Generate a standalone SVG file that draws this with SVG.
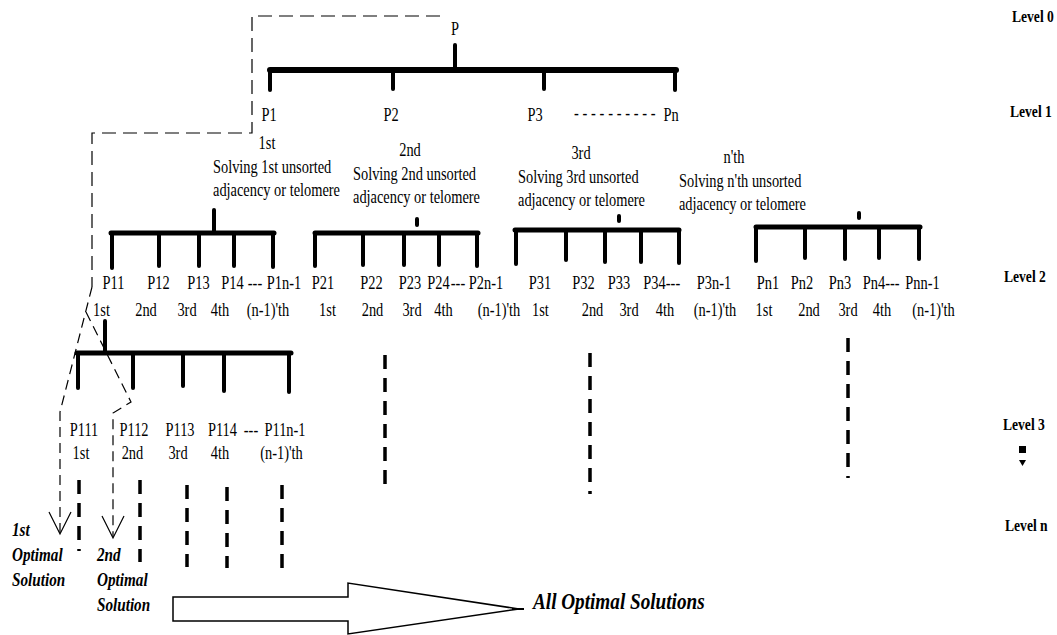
<svg xmlns="http://www.w3.org/2000/svg" width="1057" height="635" viewBox="0 0 1057 635">
<style>
.t{font-family:"Liberation Serif","Times New Roman",serif;font-size:18px;fill:#000;transform:scale(0.8,1)}
.m{text-anchor:middle}
.lvl{font-weight:bold;font-size:17px}
.it{font-weight:bold;font-style:italic;font-size:19px}
.big{font-weight:bold;font-style:italic;font-size:24px}
.bar{stroke:#000;stroke-width:5;stroke-linecap:round;fill:none}
.bar1{stroke:#000;stroke-width:6;stroke-linecap:round;fill:none}
.stem{stroke:#000;stroke-width:4;stroke-linecap:round}
.tdash{stroke:#000;stroke-width:3.5;stroke-dasharray:14 9}
.thin{stroke:#000;stroke-width:1.2;fill:none;stroke-dasharray:14 7}
.thin2{stroke:#000;stroke-width:1.2;fill:none;stroke-dasharray:10 6}
.head{stroke:#000;stroke-width:1.2;fill:none}
</style>
<rect width="1057" height="635" fill="#fff"/>

<g id="connectors">
  <!-- level 0 to level 1 -->
  <line class="stem" x1="455" y1="45" x2="455" y2="70"/>
  <line class="bar1" x1="270" y1="70" x2="676" y2="70"/>
  <line class="stem" x1="270" y1="70" x2="270" y2="90"/>
  <line class="stem" x1="393" y1="70" x2="393" y2="89"/>
  <line class="stem" x1="544" y1="70" x2="544" y2="89"/>
  <line class="stem" x1="675" y1="70" x2="675" y2="90"/>
  <!-- group 1 -->
  <line class="stem" x1="214" y1="210" x2="214" y2="233"/>
  <line class="bar" x1="111" y1="233" x2="274" y2="233"/>
  <line class="stem" x1="112" y1="233" x2="112" y2="268"/>
  <line class="stem" x1="159" y1="233" x2="159" y2="266"/>
  <line class="stem" x1="199" y1="233" x2="199" y2="266"/>
  <line class="stem" x1="234" y1="233" x2="234" y2="266"/>
  <line class="stem" x1="273" y1="233" x2="273" y2="267"/>
  <!-- group 2 -->
  <line class="stem" x1="417" y1="219" x2="417" y2="225"/>
  <line class="bar" x1="315" y1="233" x2="478" y2="233"/>
  <line class="stem" x1="315" y1="233" x2="315" y2="266"/>
  <line class="stem" x1="363" y1="233" x2="363" y2="265"/>
  <line class="stem" x1="404" y1="233" x2="404" y2="265"/>
  <line class="stem" x1="439" y1="233" x2="439" y2="265"/>
  <line class="stem" x1="477" y1="233" x2="477" y2="266"/>
  <!-- group 3 -->
  <line class="stem" x1="619" y1="216" x2="619" y2="221"/>
  <line class="bar" x1="515" y1="230" x2="679" y2="230"/>
  <line class="stem" x1="516" y1="230" x2="516" y2="264"/>
  <line class="stem" x1="566" y1="230" x2="566" y2="260"/>
  <line class="stem" x1="605" y1="230" x2="605" y2="262"/>
  <line class="stem" x1="641" y1="230" x2="641" y2="262"/>
  <line class="stem" x1="679" y1="230" x2="679" y2="263"/>
  <!-- group 4 -->
  <line class="stem" x1="859" y1="213" x2="859" y2="218"/>
  <line class="bar" x1="756" y1="227" x2="920" y2="227"/>
  <line class="stem" x1="756" y1="227" x2="756" y2="261"/>
  <line class="stem" x1="805" y1="227" x2="805" y2="258"/>
  <line class="stem" x1="845" y1="227" x2="845" y2="259"/>
  <line class="stem" x1="879" y1="227" x2="879" y2="258"/>
  <line class="stem" x1="919" y1="227" x2="919" y2="259"/>
  <!-- level 3 -->
  <line class="stem" x1="105" y1="321" x2="105" y2="353"/>
  <line class="bar" x1="77" y1="353" x2="291" y2="353"/>
  <line class="stem" x1="78" y1="353" x2="78" y2="388"/>
  <line class="stem" x1="133" y1="353" x2="133" y2="388"/>
  <line class="stem" x1="183" y1="353" x2="183" y2="386"/>
  <line class="stem" x1="224" y1="353" x2="224" y2="391"/>
  <line class="stem" x1="289" y1="353" x2="289" y2="392"/>
  <!-- continuation dashes -->
  <line class="tdash" x1="79" y1="480" x2="79" y2="551"/>
  <line class="tdash" x1="140" y1="480" x2="140" y2="562"/>
  <line class="tdash" x1="187" y1="485" x2="187" y2="567"/>
  <line class="tdash" x1="227" y1="487" x2="227" y2="568"/>
  <line class="tdash" x1="282" y1="485" x2="282" y2="568"/>
  <line class="tdash" x1="385" y1="355" x2="385" y2="484"/>
  <line class="tdash" x1="590" y1="353" x2="590" y2="494"/>
  <line class="tdash" x1="848" y1="338" x2="848" y2="478"/>
  <!-- solution paths -->
  <path class="thin" d="M440,16 H252 V133 H92 V287"/>
  <path class="thin2" d="M92,287 L60,412 V533"/>
  <path class="thin2" d="M86,312 L131,402 L113,413 V537"/>
  <path class="head" d="M49,512 L60,534 L71,512"/>
  <path class="head" d="M102,516 L113,538 L124,516"/>
  <!-- all solutions arrow -->
  <polygon points="173,597 348,597 348,583 519,609 348,634 348,621 173,621" fill="#fff" stroke="#000" stroke-width="1.5"/>
  <line x1="512" y1="609" x2="524" y2="609" stroke="#000" stroke-width="2"/>
</g>

<g id="node-P"><text class="t m" x="568.75" y="35">P</text></g>
<g id="node-P1"><text class="t m" x="336.25" y="121">P1</text></g>
<g id="node-P2"><text class="t m" x="488.75" y="121">P2</text></g>
<g id="node-P3"><text class="t m" x="668.75" y="121">P3</text></g>
<g id="node-Pn"><text class="t" x="717.5" y="119" textLength="102" lengthAdjust="spacing">- - - - - - - - - -</text><text class="t m" x="838.75" y="121">Pn</text></g>

<g id="node-step1">
  <text class="t m" x="333.75" y="149">1st</text>
  <text class="t" x="266.25" y="173">Solving 1st unsorted</text>
  <text class="t" x="266.25" y="196">adjacency or telomere</text>
</g>
<g id="node-step2">
  <text class="t m" x="512.5" y="156">2nd</text>
  <text class="t" x="441.25" y="180">Solving 2nd unsorted</text>
  <text class="t" x="441.25" y="203">adjacency or telomere</text>
</g>
<g id="node-step3">
  <text class="t m" x="726.25" y="159">3rd</text>
  <text class="t" x="647.5" y="183">Solving 3rd unsorted</text>
  <text class="t" x="647.5" y="206">adjacency or telomere</text>
</g>
<g id="node-stepn">
  <text class="t m" x="917.5" y="163">n'th</text>
  <text class="t" x="848.75" y="187">Solving n'th unsorted</text>
  <text class="t" x="848.75" y="210">adjacency or telomere</text>
</g>

<g id="node-P1x">
  <text class="t m" x="141.9" y="289">P11</text>
  <text class="t m" x="198.1" y="289">P12</text>
  <text class="t m" x="248.1" y="289">P13</text>
  <text class="t m" x="290.6" y="289">P14</text>
  <text class="t m" x="318.75" y="289">---</text>
  <text class="t m" x="355" y="289">P1n-1</text>
  <text class="t m" x="126.9" y="316">1st</text>
  <text class="t m" x="182.5" y="316">2nd</text>
  <text class="t m" x="233.75" y="316">3rd</text>
  <text class="t m" x="275" y="316">4th</text>
  <text class="t m" x="335" y="316">(n-1)'th</text>
</g>
<g id="node-P2x">
  <text class="t m" x="403.75" y="289">P21</text>
  <text class="t m" x="464.4" y="289">P22</text>
  <text class="t m" x="512.5" y="289">P23</text>
  <text class="t m" x="548.1" y="289">P24</text>
  <text class="t m" x="572.5" y="289">---</text>
  <text class="t m" x="607.5" y="289">P2n-1</text>
  <text class="t m" x="409.4" y="316">1st</text>
  <text class="t m" x="465.6" y="316">2nd</text>
  <text class="t m" x="515" y="316">3rd</text>
  <text class="t m" x="554.4" y="316">4th</text>
  <text class="t m" x="623.75" y="316">(n-1)'th</text>
</g>
<g id="node-P3x">
  <text class="t m" x="675" y="289">P31</text>
  <text class="t m" x="729.4" y="289">P32</text>
  <text class="t m" x="773.75" y="289">P33</text>
  <text class="t m" x="818.1" y="289">P34</text>
  <text class="t m" x="841.25" y="289">---</text>
  <text class="t m" x="892.5" y="289">P3n-1</text>
  <text class="t m" x="675.6" y="316">1st</text>
  <text class="t m" x="740.6" y="316">2nd</text>
  <text class="t m" x="786.25" y="316">3rd</text>
  <text class="t m" x="831.25" y="316">4th</text>
  <text class="t m" x="893.75" y="316">(n-1)'th</text>
</g>
<g id="node-Pnx">
  <text class="t m" x="960" y="289">Pn1</text>
  <text class="t m" x="1002.5" y="289">Pn2</text>
  <text class="t m" x="1050" y="289">Pn3</text>
  <text class="t m" x="1092.5" y="289">Pn4</text>
  <text class="t m" x="1115.6" y="289">---</text>
  <text class="t m" x="1153.1" y="289">Pnn-1</text>
  <text class="t m" x="955" y="316">1st</text>
  <text class="t m" x="1011.25" y="316">2nd</text>
  <text class="t m" x="1060" y="316">3rd</text>
  <text class="t m" x="1102.5" y="316">4th</text>
  <text class="t m" x="1166.9" y="316">(n-1)'th</text>
</g>
<g id="node-P11x">
  <text class="t m" x="105" y="436">P111</text>
  <text class="t m" x="167.5" y="436">P112</text>
  <text class="t m" x="225" y="436">P113</text>
  <text class="t m" x="278.1" y="436">P114</text>
  <text class="t m" x="313.75" y="436">---</text>
  <text class="t m" x="356.25" y="436">P11n-1</text>
  <text class="t m" x="101.25" y="459">1st</text>
  <text class="t m" x="165.6" y="459">2nd</text>
  <text class="t m" x="222.5" y="459">3rd</text>
  <text class="t m" x="275" y="459">4th</text>
  <text class="t m" x="351.9" y="459">(n-1)'th</text>
</g>

<g id="node-sol1">
  <text class="t it" x="15" y="536">1st</text>
  <text class="t it" x="15" y="561">Optimal</text>
  <text class="t it" x="15" y="586">Solution</text>
</g>
<g id="node-sol2">
  <text class="t it" x="121.25" y="561">2nd</text>
  <text class="t it" x="121.25" y="586">Optimal</text>
  <text class="t it" x="121.25" y="611">Solution</text>
</g>
<g id="node-all">
  <text class="t big" x="666.25" y="609">All Optimal Solutions</text>
</g>

<g id="levels">
  <text class="t lvl" x="1265" y="22">Level 0</text>
  <text class="t lvl" x="1262.5" y="117">Level 1</text>
  <text class="t lvl" x="1255" y="282">Level 2</text>
  <text class="t lvl" x="1253.75" y="430">Level 3</text>
  <rect x="1019" y="446" width="7" height="7" fill="#000"/>
  <polygon points="1019,460 1026,460 1022.5,466" fill="#000"/>
  <text class="t lvl" x="1256.25" y="531">Level n</text>
</g>
</svg>
